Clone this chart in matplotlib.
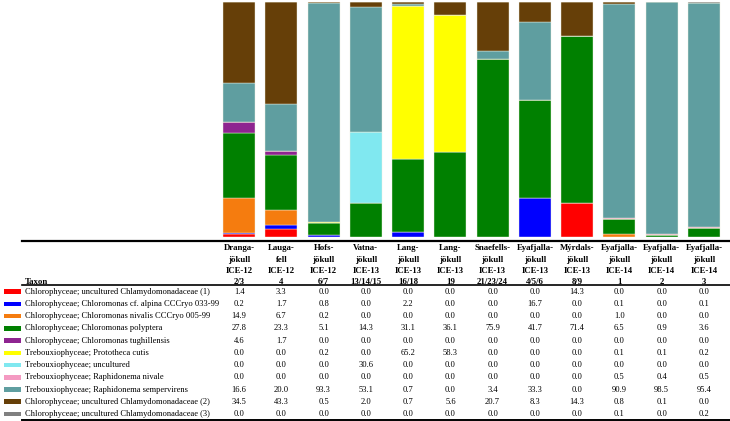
import matplotlib
matplotlib.use("Agg")
import matplotlib.pyplot as plt
from matplotlib.patches import Rectangle
from matplotlib.lines import Line2D
from matplotlib.transforms import blended_transform_factory
import numpy as np

header_line1 = ["Dranga-", "Lauga-", "Hofs-", "Vatna-", "Lang-", "Lang-", "Snaefells-",
                "Eyafjalla-", "Mýrdals-", "Eyafjalla-", "Eyafjalla-", "Eyafjalla-"]
header_line2 = ["jökull", "fell", "jökull", "jökull", "jökull", "jökull", "jökull",
                "jökull", "jökull", "jökull", "jökull", "jökull"]
header_line3 = ["ICE-12", "ICE-12", "ICE-12", "ICE-13", "ICE-13", "ICE-13", "ICE-13",
                "ICE-13", "ICE-13", "ICE-14", "ICE-14", "ICE-14"]
header_line4 = ["2/3", "4", "6/7", "13/14/15", "16/18", "19", "21/23/24",
                "4/5/6", "8/9", "1", "2", "3"]

taxa = [
    "Chlorophyceae; uncultured Chlamydomonadaceae (1)",
    "Chlorophyceae; Chloromonas cf. alpina CCCryo 033-99",
    "Chlorophyceae; Chloromonas nivalis CCCryo 005-99",
    "Chlorophyceae; Chloromonas polyptera",
    "Chlorophyceae; Chloromonas tughillensis",
    "Trebouxiophyceae; Prototheca cutis",
    "Trebouxiophyceae; uncultured",
    "Trebouxiophyceae; Raphidonema nivale",
    "Trebouxiophyceae; Raphidonema sempervirens",
    "Chlorophyceae; uncultured Chlamydomonadaceae (2)",
    "Chlorophyceae; uncultured Chlamydomonadaceae (3)",
]
colors = ["#ff0000", "#0000ff", "#f57c0f", "#008000", "#8e2490", "#ffff00",
          "#80e8f0", "#f49ac2", "#5f9ea0", "#663f08", "#808080"]

chlamy1 = [1.4, 3.3, 0.0, 0.0, 0.0, 0.0, 0.0, 0.0, 14.3, 0.0, 0.0, 0.0]
alpina = [0.2, 1.7, 0.8, 0.0, 2.2, 0.0, 0.0, 16.7, 0.0, 0.1, 0.0, 0.1]
nivalis = [14.9, 6.7, 0.2, 0.0, 0.0, 0.0, 0.0, 0.0, 0.0, 1.0, 0.0, 0.0]
polyptera = [27.8, 23.3, 5.1, 14.3, 31.1, 36.1, 75.9, 41.7, 71.4, 6.5, 0.9, 3.6]
tughillensis = [4.6, 1.7, 0.0, 0.0, 0.0, 0.0, 0.0, 0.0, 0.0, 0.0, 0.0, 0.0]
prototheca = [0.0, 0.0, 0.2, 0.0, 65.2, 58.3, 0.0, 0.0, 0.0, 0.1, 0.1, 0.2]
treb_uncult = [0.0, 0.0, 0.0, 30.6, 0.0, 0.0, 0.0, 0.0, 0.0, 0.0, 0.0, 0.0]
raph_nivale = [0.0, 0.0, 0.0, 0.0, 0.0, 0.0, 0.0, 0.0, 0.0, 0.5, 0.4, 0.5]
raph_semper = [16.6, 20.0, 93.3, 53.1, 0.7, 0.0, 3.4, 33.3, 0.0, 90.9, 98.5, 95.4]
chlamy2 = [34.5, 43.3, 0.5, 2.0, 0.7, 5.6, 20.7, 8.3, 14.3, 0.8, 0.1, 0.0]
chlamy3 = [0.0, 0.0, 0.0, 0.0, 0.0, 0.0, 0.0, 0.0, 0.0, 0.1, 0.0, 0.2]

series = [chlamy1, alpina, nivalis, polyptera, tughillensis, prototheca,
          treb_uncult, raph_nivale, raph_semper, chlamy2, chlamy3]

W, H = 730, 421
fig = plt.figure(figsize=(W / 100, H / 100), dpi=100)
plt.rcParams['font.family'] = ['Liberation Serif', 'DejaVu Serif']

ax = fig.add_axes([218 / W, 1 - 237 / H, 507 / W, 235 / H])
n = len(header_line1)
x = np.arange(n)
bottom = np.zeros(n)
for vals, c in zip(series, colors):
    v = np.array(vals)
    ax.bar(x, v, bottom=bottom, width=0.76, color=c, edgecolor="#f0f0e0", linewidth=0.3)
    bottom += v
ax.set_xlim(-0.5, n - 0.5)
ax.set_ylim(0, max(bottom))
ax.axis("off")

tr = blended_transform_factory(ax.transData, fig.transFigure)

def fy(py):
    return 1 - py / H

# header
hdr_ys = [248, 259.5, 271, 282.5]
for i in range(n):
    for line, py in zip([header_line1, header_line2, header_line3, header_line4], hdr_ys):
        fig.text(x[i], fy(py), line[i], transform=tr, ha="center", va="center",
                 fontsize=6.3, fontweight="bold")
fig.text(25 / W, fy(282.5), "Taxon", ha="left", va="center", fontsize=6.3, fontweight="bold")

# rows
row0, dy = 291.7, 12.23
for r, (name, vals, c) in enumerate(zip(taxa, series, colors)):
    py = row0 + r * dy
    fig.text(25 / W, fy(py), name, ha="left", va="center", fontsize=6.1)
    fig.add_artist(Rectangle((4 / W, fy(py + 2.3)), 17 / W, 4.6 / H,
                             transform=fig.transFigure, color=c, lw=0))
    for i in range(n):
        fig.text(x[i], fy(py), f"{vals[i]:.1f}", transform=tr, ha="center", va="center",
                 fontsize=6.1)

# rules
for py, lw in [(240.5, 1.6), (285, 1.2), (419.5, 1.4)]:
    fig.add_artist(Line2D([22 / W, 1], [fy(py), fy(py)], transform=fig.transFigure,
                          color="black", lw=lw))

fig.savefig("out.png", dpi=100)
